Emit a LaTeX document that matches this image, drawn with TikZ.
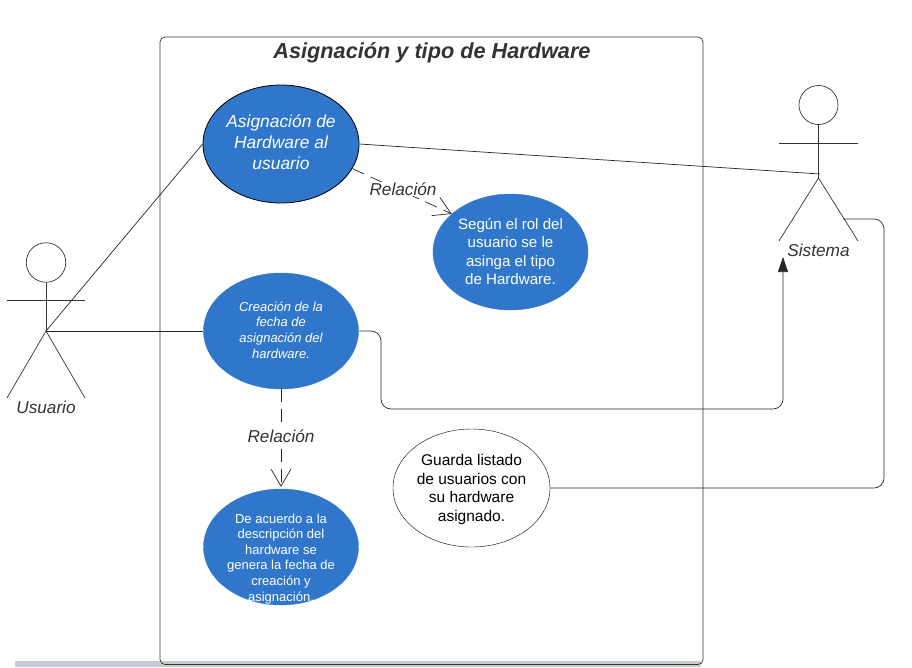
\documentclass[tikz,border=0pt]{standalone}
\usepackage{xcolor}
\usepackage{fontspec}
\setmainfont{Liberation Sans}
\usetikzlibrary{arrows.meta, shapes.geometric}
\definecolor{usecase}{HTML}{3077CC}
\definecolor{inktext}{HTML}{333333}
\definecolor{scrollbar}{HTML}{C8CCD0}
% text that does not stretch its ellipse: #1 is the vertical offset
\newcommand{\casetext}[2]{\raisebox{#1}[0pt][0pt]{\begin{tabular}{@{}c@{}}#2\end{tabular}}}
\tikzset{
  casefill/.style={ellipse, draw=usecase, fill=usecase, text=white, inner sep=0pt},
  caseline/.style={ellipse, draw=black, inner sep=0pt},
  link/.style={draw=black!85, line width=0.7pt},
  stick/.style={draw=inktext, line width=0.7pt},
  relation/.style={link, dash pattern=on 13pt off 7pt, -{Straight Barb[length=17pt,width=20pt,line width=0.7pt]}},
  actorlabel/.style={font=\fontsize{17.2}{20}\selectfont\itshape, text=inktext},
  every node/.append style={inner sep=1pt}
}
\begin{document}
\begin{tikzpicture}[x=1pt, y=-1pt]
  \useasboundingbox (0, 0) rectangle (912, 667);
  % Scroll bar
  \fill[scrollbar, rounded corners=1pt] (15, 661) rectangle (701, 667);

  % System boundary
  \draw[stick, rounded corners=5pt] (160, 37) rectangle (703, 664.5);
  \node[font=\fontsize{21.7}{26}\selectfont\bfseries\itshape, text=inktext] (title) at (432, 53) {Asignación y tipo de Hardware};

  % Usuario
  \node[circle, stick, minimum size=39.5pt, inner sep=0pt] (headU) at (46, 262.5) {};
  \coordinate (hipU) at (46, 331);
  \coordinate (armUa) at (7, 300);
  \coordinate (armUb) at (85, 300);
  \coordinate (legUa) at (7, 398);
  \coordinate (legUb) at (85, 398);
  \draw[stick] (headU.south) -- (hipU);
  \draw[stick] (armUa) -- (armUb);
  \draw[stick] (legUa) -- (hipU) -- (legUb);
  \node[actorlabel] (labelU) at (46, 407) {Usuario};

  % Sistema
  \node[circle, stick, minimum size=39pt, inner sep=0pt] (headS) at (818.5, 105) {};
  \coordinate (hipS) at (818.5, 178);
  \coordinate (neckS) at (820, 174);
  \coordinate (armSa) at (779, 143.5);
  \coordinate (armSb) at (858, 143.5);
  \coordinate (legSa) at (779, 241);
  \coordinate (legSb) at (858, 241);
  \coordinate (sideS) at (843, 219);
  \draw[stick] (headS.south) -- (hipS);
  \draw[stick] (armSa) -- (armSb);
  \draw[stick] (legSa) -- (hipS) -- (legSb);
  \node[actorlabel] (labelS) at (818.5, 250) {Sistema};

  % Use cases
  \node[casefill, draw=black, line width=0.8pt, minimum width=156pt, minimum height=118pt,
    font=\fontsize{17.4}{21}\selectfont\itshape] (asigna) at (281, 144)
    {\casetext{-5pt}{Asignación de\\Hardware al\\usuario}};
  \node[casefill, minimum width=155pt, minimum height=116pt,
    font=\fontsize{15.1}{18.3}\selectfont] (segun) at (510.5, 252)
    {\casetext{-5pt}{Según el rol del\\usuario se le\\asinga el tipo\\de Hardware.}};
  \node[casefill, minimum width=155pt, minimum height=116pt,
    font=\fontsize{13}{15.6}\selectfont\itshape] (fecha) at (281, 331)
    {\casetext{-3.5pt}{Creación de la\\fecha de\\asignación del\\hardware.}};
  \node[casefill, minimum width=155pt, minimum height=116pt,
    font=\fontsize{13}{15.6}\selectfont] (acuerdo) at (281, 547)
    {\casetext{-15pt}{De acuerdo a la\\descripción del\\hardware se\\genera la fecha de\\creación y\\asignación.}};
  \node[caseline, minimum width=157pt, minimum height=118pt,
    font=\fontsize{15.5}{18.7}\selectfont] (guarda) at (471.5, 488)
    {\casetext{-5.5pt}{Guarda listado\\de usuarios con\\su hardware\\asignado.}};

  % Connectors
  \draw[link] (hipU) -- (asigna.west);
  \draw[link] (hipU) -- (fecha.west);
  \draw[link] (asigna.east) -- (neckS);
  \draw[link, rounded corners=10pt, -{Triangle[length=15pt,width=10pt]}]
    (fecha.east) -- (381, 331) -- (381, 409) -- (783, 409) -- (783, 257);
  \draw[link, rounded corners=10pt]
    (guarda.east) -- (884, 488) -- (884, 219) -- (sideS);
  \draw[relation] (asigna.-19) -- (segun.147);
  \draw[relation, shorten >=2pt] (fecha.south) -- (acuerdo.north);

  % Relation labels
  \node[actorlabel, fill=white] (rel1) at (403, 189) {Relación};
  \node[actorlabel, fill=white] (rel2) at (281, 436) {Relación};
\end{tikzpicture}
\end{document}
